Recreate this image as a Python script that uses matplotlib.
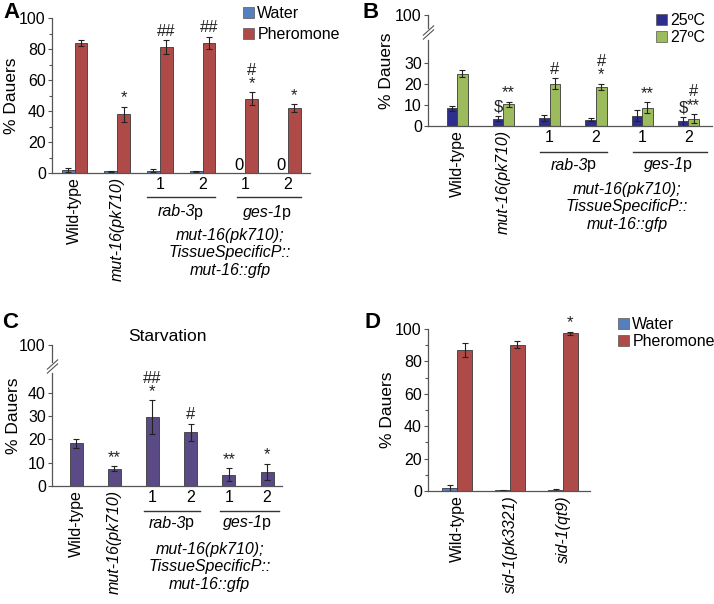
import matplotlib.pyplot as plt
import numpy as np
from matplotlib.patches import Patch
from matplotlib.transforms import blended_transform_factory

plt.rcParams['font.family'] = ['Liberation Sans', 'DejaVu Sans']

# ---- data ----
a_labels = ['Wild-type', 'mut-16(pk710)', '1', '2', '1', '2']
a_water = [2.0, 1.0, 1.5, 1.0, 0, 0]
a_water_err = [1.2, 0.5, 1.0, 0.5, 0, 0]
a_pher = [84, 38, 81, 84, 48, 42]
a_pher_err = [2.0, 4.8, 4.5, 4.0, 4.0, 2.5]
a_marks = ['', '*', '##', '##', '#\n*', '*']

b_labels = ['Wild-type', 'mut-16(pk710)', '1', '2', '1', '2']
b_25 = [8.4, 3.4, 3.8, 3.1, 5.0, 2.2]
b_25_err = [1.0, 1.2, 1.5, 0.6, 2.5, 2.2]
b_27 = [25.0, 10.3, 20.1, 18.6, 8.8, 3.5]
b_27_err = [1.8, 1.3, 2.6, 1.5, 2.6, 2.2]
b_marks_25 = ['', '$', '', '', '', '$']
b_marks_27 = ['', '**', '#', '#\n*', '**', '#\n**']

c_labels = ['Wild-type', 'mut-16(pk710)', '1', '2', '1', '2']
c_vals = [18.4, 7.4, 29.6, 23.1, 4.9, 6.0]
c_err = [2.0, 1.0, 7.2, 3.6, 2.7, 3.5]
c_marks = ['', '**', '##\n*', '#', '**', '*']

d_labels = ['Wild-type', 'sid-1(pk3321)', 'sid-1(qt9)']
d_water = [2.0, 0.5, 0.5]
d_water_err = [1.8, 0.4, 0.5]
d_pher = [87.0, 90.2, 97.4]
d_pher_err = [4.2, 2.2, 0.8]
d_marks = ['', '', '*']

water_col = '#5480C0'
pher_col = '#AE4B49'
c25_col = '#2E2E8E'
c27_col = '#9CBB5C'
starv_col = '#5A4A85'
genotype = 'mut-16(pk710);\nTissueSpecificP::\nmut-16::gfp'

W, H = 714, 604
fig = plt.figure(figsize=(W / 100, H / 100), dpi=100)


def box(l, r, b, t):
    return [l / W, 1 - b / H, (r - l) / W, (b - t) / H]


def style(ax):
    for s in ['top', 'right']:
        ax.spines[s].set_visible(False)
    for s in ['left', 'bottom']:
        ax.spines[s].set_color('#555555')
        ax.spines[s].set_linewidth(0.9)
    ax.tick_params(axis='y', labelsize=11.5, length=3, width=0.8, color='#555555', pad=1.5)
    ax.tick_params(axis='x', length=0, labelsize=11.5, pad=3)


def ylab(ax, x_px):
    # x_px is the centre of the rotated label; anchor sits on its right side
    ax.set_ylabel('% Dauers', fontsize=12.5)
    bb = ax.get_position()
    ax.yaxis.set_label_coords(((x_px + 7) / W - bb.x0) / bb.width, 0.5)


def bars(ax, x, vals, err, color, width):
    ax.bar(x, vals, width, color=color, edgecolor='#3a3a3a', linewidth=0.6)
    x = np.asarray(x)
    vals = np.asarray(vals)
    err = np.asarray(err)
    keep = vals > 0
    ax.errorbar(x[keep], vals[keep], yerr=err[keep], fmt='none', ecolor='#222222',
                elinewidth=0.8, capsize=2.5, capthick=0.8)


def marks(ax, x, vals, err, labels, fs=12):
    for xi, v, e, s in zip(x, vals, err, labels):
        if s:
            ax.annotate(s, (xi, v + e), xytext=(0, 1), textcoords='offset points',
                        ha='center', va='bottom', fontsize=fs, linespacing=0.85, color='#222222')


def xlabels(ax, labels):
    ax.set_xticks(range(len(labels)))
    ax.set_xticklabels(labels)
    for i, t in enumerate(ax.get_xticklabels()):
        if not labels[i].isdigit():
            t.set_rotation(90)
        if labels[i].startswith('mut') or labels[i].startswith('sid'):
            t.set_style('italic')


def group(ax, x1, x2, y_line, y_text, name, fs=11.5):
    tr = blended_transform_factory(ax.transData, fig.transFigure)
    ax.plot([x1, x2], [1 - y_line / H] * 2, transform=tr, color='#333333', lw=1.0, clip_on=False)
    xc = (x1 + x2) / 2
    ax.annotate(name, (xc, 1 - y_text / H), xycoords=tr, xytext=(10, 0), textcoords='offset points',
                ha='right', va='center', style='italic', fontsize=fs)
    ax.annotate('p', (xc, 1 - y_text / H), xycoords=tr, xytext=(9.3, 0), textcoords='offset points',
                ha='left', va='center', fontsize=fs)


def genotype_text(ax, xc, y, fs=11.5):
    tr = blended_transform_factory(ax.transData, fig.transFigure)
    ax.text(xc, 1 - y / H, genotype, transform=tr, ha='center', va='center', style='italic',
            fontsize=fs, linespacing=1.2, multialignment='center')


def broken_spine(ax, low_top, high_bottom, top, slash_y):
    ax.spines['left'].set_visible(False)
    tr = ax.get_yaxis_transform()
    ax.plot([0, 0], [0, low_top], transform=tr, color='#555555', lw=0.9, clip_on=False)
    ax.plot([0, 0], [high_bottom, top], transform=tr, color='#555555', lw=0.9, clip_on=False)
    for y in slash_y:
        ax.plot([0], [y], transform=tr, marker=[(-1, -0.9), (1, 0.9)], markersize=8,
                markeredgewidth=0.8, color='#555555', clip_on=False)


def legend(ax, handles, x_px, y_px, spacing):
    ax.legend(handles=handles, loc='upper left', bbox_to_anchor=(x_px / W, 1 - y_px / H),
              bbox_transform=fig.transFigure, frameon=False, fontsize=11.5, handlelength=0.7,
              handleheight=0.7, handletextpad=0.2, labelspacing=spacing, borderaxespad=0,
              borderpad=0)


# ---- A ----
axA = fig.add_axes(box(52, 310, 173, 18))
style(axA)
xA = np.arange(len(a_labels))
w = 0.30
bars(axA, xA - w / 2, a_water, a_water_err, water_col, w)
bars(axA, xA + w / 2, a_pher, a_pher_err, pher_col, w)
marks(axA, xA + w / 2, a_pher, a_pher_err, a_marks)
for xi, v in zip(xA - w / 2, a_water):
    if v == 0:
        axA.text(xi, 0, '0', ha='center', va='bottom', fontsize=12)
axA.set_xlim(-0.53, 5.52)
axA.set_ylim(0, 100)
axA.set_yticks([0, 20, 40, 60, 80, 100])
axA.set_yticks(np.arange(10, 100, 20), minor=True)
axA.tick_params(axis='y', which='minor', length=2, width=0.8, color='#555555')
ylab(axA, 12)
xlabels(axA, a_labels)
group(axA, 1.7, 3.3, 197, 212, 'rab-3')
group(axA, 3.8, 5.3, 197, 212, 'ges-1')
genotype_text(axA, 3.64, 253)
legend(axA, [Patch(facecolor=water_col, edgecolor='#555555', lw=0.5, label='Water'),
             Patch(facecolor=pher_col, edgecolor='#555555', lw=0.5, label='Pheromone')],
       243, 6, 0.4)

# ---- B ----
axB = fig.add_axes(box(428, 712, 126, 15))
style(axB)
xB = np.arange(len(b_labels))
w = 0.23
bars(axB, xB - w / 2, b_25, b_25_err, c25_col, w)
bars(axB, xB + w / 2, b_27, b_27_err, c27_col, w)
marks(axB, xB - w / 2, b_25, b_25_err, b_marks_25)
marks(axB, xB + w / 2, b_27, b_27_err, b_marks_27)
axB.set_xlim(-0.63, 5.51)
axB.set_ylim(0, 53)
axB.set_yticks([0, 10, 20, 30, 53])
axB.set_yticklabels(['0', '10', '20', '30', '100'])
broken_spine(axB, 41, 47, 53, [45.6, 44.0])
ylab(axB, 387)
xlabels(axB, b_labels)
group(axB, 1.8, 3.25, 152, 165, 'rab-3')
group(axB, 3.8, 5.4, 152, 165, 'ges-1')
genotype_text(axB, 3.67, 207)
legend(axB, [Patch(facecolor=c25_col, edgecolor='#555555', lw=0.5, label='25ºC'),
             Patch(facecolor=c27_col, edgecolor='#555555', lw=0.5, label='27ºC')],
       656, 13, 0.15)

# ---- C ----
axC = fig.add_axes(box(52, 282, 486, 345))
style(axC)
xC = np.arange(len(c_labels))
bars(axC, xC, c_vals, c_err, starv_col, 0.34)
marks(axC, xC, c_vals, c_err, c_marks)
axC.set_xlim(-0.63, 5.39)
axC.set_ylim(0, 60.6)
axC.set_yticks([0, 10, 20, 30, 40, 60.6])
axC.set_yticklabels(['0', '10', '20', '30', '40', '100'])
broken_spine(axC, 48.6, 53.3, 60.6, [52.3, 50.6])
ylab(axC, 14)
axC.set_title('Starvation', fontsize=12.5, pad=0, y=1.03)
xlabels(axC, c_labels)
group(axC, 1.78, 3.24, 511, 523, 'rab-3')
group(axC, 3.76, 5.3, 511, 523, 'ges-1')
genotype_text(axC, 3.5, 567)

# ---- D ----
axD = fig.add_axes(box(428, 590, 491, 329))
style(axD)
xD = np.arange(len(d_labels))
w = 0.28
bars(axD, xD - w / 2, d_water, d_water_err, water_col, w)
bars(axD, xD + w / 2, d_pher, d_pher_err, pher_col, w)
marks(axD, xD + w / 2, d_pher, d_pher_err, d_marks)
axD.set_xlim(-0.55, 2.51)
axD.set_ylim(0, 100)
axD.set_yticks([0, 20, 40, 60, 80, 100])
axD.set_yticks(np.arange(10, 100, 20), minor=True)
axD.tick_params(axis='y', which='minor', length=2, width=0.8, color='#555555')
ylab(axD, 388)
xlabels(axD, d_labels)
legend(axD, [Patch(facecolor=water_col, edgecolor='#555555', lw=0.5, label='Water'),
             Patch(facecolor=pher_col, edgecolor='#555555', lw=0.5, label='Pheromone')],
       618, 317, 0.15)

# panel letters
for s, x, y in [('A', 3, 13), ('B', 363, 13), ('C', 2, 323), ('D', 365, 323)]:
    fig.text(x / W, 1 - y / H, s, fontsize=16, weight='bold', va='center', ha='left')

fig.savefig('out.png', dpi=100)
